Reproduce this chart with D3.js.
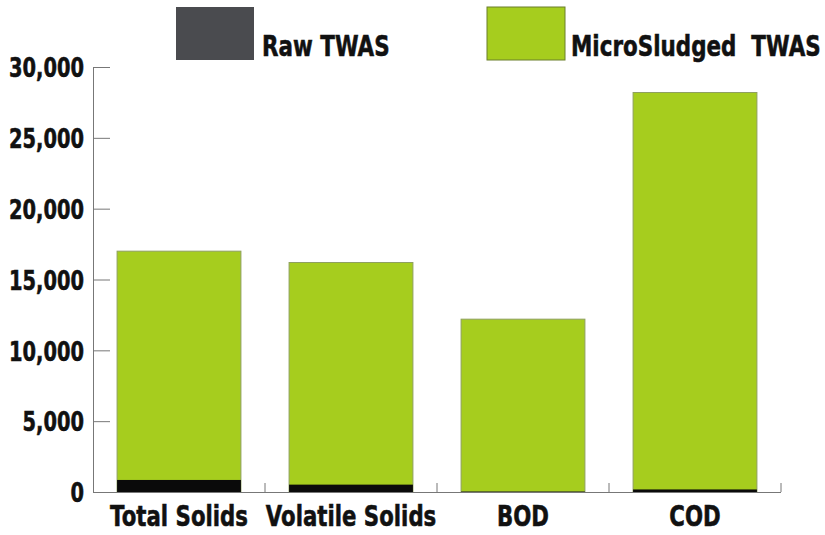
<!DOCTYPE html>
<html><head><meta charset="utf-8">
<script src="https://cdn.jsdelivr.net/npm/d3@7"></script>
<style>
body{margin:0;background:#fff;}
text{font-family:"DejaVu Sans",sans-serif;font-weight:bold;fill:#111;white-space:pre;}
</style></head>
<body><svg id="c" width="825" height="535"></svg>
<script>
const categories = ["Total Solids","Volatile Solids","BOD","COD"];
const microSludged = [17000, 16200, 12200, 28200];
const raw = [850, 520, 30, 180];
const yTicks = [0,5000,10000,15000,20000,25000,30000];
const seriesNames = ["Raw TWAS","MicroSludged  TWAS"];
const colors = ["#4a4b4f","#a6cd1e"];

const svg = d3.select("#c");
const x = d3.scaleBand().domain(categories).range([93,781]).paddingInner(0.28).paddingOuter(0.14);
const y = d3.scaleLinear().domain([0,30000]).range([492,67]);

// condense text horizontally about its anchor (reference uses a bold condensed face)
function condense(sel, k){
  sel.each(function(){
    const ax = +(this.getAttribute("x") || 0);
    d3.select(this).attr("transform", `translate(${ax*(1-k)},0) scale(${k},1)`);
  });
}

// bars
const g = svg.append("g");
g.selectAll("rect.ms").data(categories).join("rect")
  .attr("x", d=>x(d)).attr("width", x.bandwidth())
  .attr("y", (d,i)=>y(microSludged[i])).attr("height",(d,i)=>y(0)-y(microSludged[i]))
  .attr("fill", colors[1]).attr("stroke","#8fa060").attr("stroke-width",1);
g.selectAll("rect.raw").data(categories).join("rect")
  .attr("x", d=>x(d)).attr("width", x.bandwidth())
  .attr("y", (d,i)=>y(raw[i])).attr("height",(d,i)=>y(0)-y(raw[i]))
  .attr("fill", "#0a0a0a");

const fontFam = '"DejaVu Sans",sans-serif';
// y axis
const yAxis = d3.axisLeft(y).tickValues(yTicks).tickFormat(d3.format(",")).tickSize(-17).tickPadding(9);
const ya = svg.append("g").attr("transform","translate(93,0)").call(yAxis);
ya.select(".domain").attr("stroke","#777").attr("d","M0.5,67V492.5");
ya.selectAll(".tick line").attr("stroke","#777");
ya.selectAll(".tick text").attr("font-size",27).attr("fill","#111")
  .attr("font-family",fontFam).attr("font-weight","bold")
  .attr("stroke","#111").attr("stroke-width",0.6).attr("dy","0.36em");
condense(ya.selectAll(".tick text"), 0.72);

// x axis
const xa = svg.append("g").attr("transform","translate(0,492)").call(d3.axisBottom(x).tickSize(0).tickPadding(14));
xa.select(".domain").attr("stroke","#777").attr("d","M93,0.5H781");
xa.selectAll(".tick text").attr("font-size",28).attr("fill","#111")
  .attr("font-family",fontFam).attr("font-weight","bold")
  .attr("stroke","#111").attr("stroke-width",0.6).attr("dy","0.72em");
condense(xa.selectAll(".tick text"), 0.76);
// category separator ticks
const sep = categories.map(c=>x(c)+x.bandwidth()+x.step()*x.paddingInner()/2);
xa.selectAll("line.sep").data(sep).join("line").attr("class","sep")
  .attr("x1",d=>d).attr("x2",d=>d).attr("y1",0).attr("y2",-9).attr("stroke","#777");

// legend
const leg = svg.append("g");
const legX = [176, 487];
const legTX = [262, 571];
seriesNames.forEach((s,i)=>{
  leg.append("rect").attr("x",legX[i]).attr("y",7).attr("width",78).attr("height",53)
    .attr("fill",colors[i]).attr("stroke", i? "#6b7f2a":"none");
  const t = leg.append("text").attr("x",legTX[i]).attr("y",56).attr("font-size",29)
    .attr("stroke","#111").attr("stroke-width",0.6).text(s);
  condense(t, 0.74);
});
</script></body></html>
